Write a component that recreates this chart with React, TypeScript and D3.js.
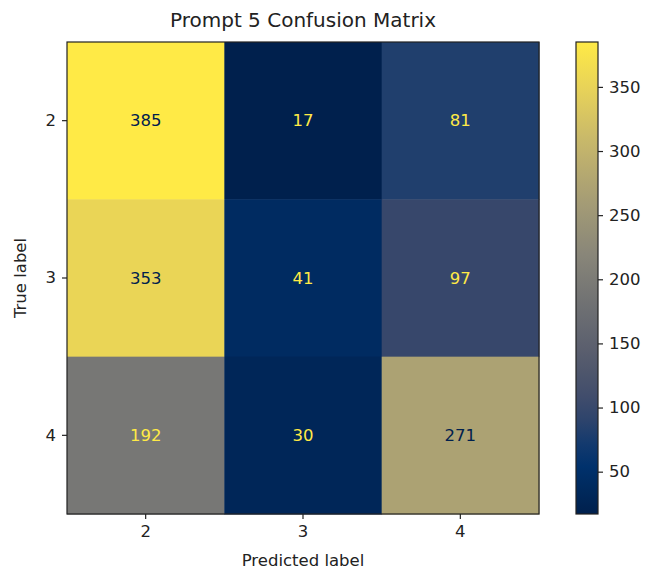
import * as d3 from "d3";
import React, { useEffect, useRef } from "react";

const labels = ["2", "3", "4"];
const matrix = [
  [385, 17, 81],
  [353, 41, 97],
  [192, 30, 271],
];
const colorbarTicks = [50, 100, 150, 200, 250, 300, 350];

// matplotlib's cividis, sampled at 10 even steps
const cividisStops = [
  "#00204D",
  "#00336F",
  "#39486B",
  "#575C6D",
  "#707173",
  "#8A8779",
  "#A69D75",
  "#C4B56C",
  "#E4CF5B",
  "#FFEA46",
];
const cividis = d3.piecewise(d3.interpolateRgb, cividisStops);

const App: React.FC = () => {
  const ref = useRef<SVGSVGElement | null>(null);

  useEffect(() => {
    const width = 646;
    const height = 570;
    const svg = d3.select(ref.current);
    svg.selectAll("*").remove();
    svg.attr("width", width).attr("height", height);

    const font = "DejaVu Sans, sans-serif";
    const fs = "16.5px";
    const left = 67,
      top = 42,
      size = 472;

    const flat = matrix.flat();
    const vmin = d3.min(flat) as number;
    const vmax = d3.max(flat) as number;
    const color = d3.scaleSequential(cividis).domain([vmin, vmax]);

    const x = d3.scaleBand<string>().domain(labels).range([left, left + size]);
    const y = d3.scaleBand<string>().domain(labels).range([top, top + size]);

    svg
      .append("rect")
      .attr("width", width)
      .attr("height", height)
      .attr("fill", "white");

    const cells = matrix.flatMap((row, i) =>
      row.map((v, j) => ({ r: labels[i], c: labels[j], v })),
    );

    svg
      .append("g")
      .selectAll("rect")
      .data(cells)
      .enter()
      .append("rect")
      .attr("x", (d) => x(d.c)!)
      .attr("y", (d) => y(d.r)!)
      .attr("width", x.bandwidth() + 0.5)
      .attr("height", y.bandwidth() + 0.5)
      .attr("fill", (d) => color(d.v));

    const thresh = (vmin + vmax) / 2;
    svg
      .append("g")
      .selectAll("text")
      .data(cells)
      .enter()
      .append("text")
      .attr("x", (d) => x(d.c)! + x.bandwidth() / 2)
      .attr("y", (d) => y(d.r)! + y.bandwidth() / 2)
      .attr("text-anchor", "middle")
      .attr("dominant-baseline", "central")
      .attr("font-family", font)
      .attr("font-size", fs)
      .attr("fill", (d) => (d.v < thresh ? cividis(1) : cividis(0)))
      .text((d) => d.v);

    svg
      .append("rect")
      .attr("x", left)
      .attr("y", top)
      .attr("width", size)
      .attr("height", size)
      .attr("fill", "none")
      .attr("stroke", "#222")
      .attr("stroke-width", 1.2);

    const styleAxis = (g: d3.Selection<SVGGElement, unknown, null, undefined>) => {
      g.select(".domain").remove();
      g.selectAll("text")
        .attr("font-family", font)
        .attr("font-size", fs)
        .attr("fill", "#222");
      g.selectAll("line").attr("stroke", "#222").attr("stroke-width", 1.2);
    };

    svg
      .append("g")
      .attr("transform", `translate(0,${top + size})`)
      .call(d3.axisBottom(x).tickSize(5).tickPadding(6))
      .call(styleAxis);

    svg
      .append("g")
      .attr("transform", `translate(${left},0)`)
      .call(d3.axisLeft(y).tickSize(5).tickPadding(6))
      .call(styleAxis);

    svg
      .append("text")
      .attr("x", left + size / 2)
      .attr("y", 566)
      .attr("text-anchor", "middle")
      .attr("font-family", font)
      .attr("font-size", fs)
      .attr("fill", "#222")
      .text("Predicted label");

    svg
      .append("text")
      .attr("transform", `translate(26,${top + size / 2}) rotate(-90)`)
      .attr("text-anchor", "middle")
      .attr("font-family", font)
      .attr("font-size", fs)
      .attr("fill", "#222")
      .text("True label");

    svg
      .append("text")
      .attr("x", left + size / 2)
      .attr("y", 27)
      .attr("text-anchor", "middle")
      .attr("font-family", font)
      .attr("font-size", "20px")
      .attr("fill", "#222")
      .text("Prompt 5 Confusion Matrix");

    // colorbar
    const cbX = 576,
      cbW = 22;
    const cbScale = d3
      .scaleLinear()
      .domain([vmin, vmax])
      .range([top + size, top]);
    const defs = svg.append("defs");
    const grad = defs
      .append("linearGradient")
      .attr("id", "cbgrad")
      .attr("x1", 0)
      .attr("y1", 1)
      .attr("x2", 0)
      .attr("y2", 0);
    d3.range(0, 1.0001, 0.05).forEach((t) => {
      grad
        .append("stop")
        .attr("offset", t)
        .attr("stop-color", cividis(t));
    });
    svg
      .append("rect")
      .attr("x", cbX)
      .attr("y", top)
      .attr("width", cbW)
      .attr("height", size)
      .attr("fill", "url(#cbgrad)")
      .attr("stroke", "#222")
      .attr("stroke-width", 1.2);

    svg
      .append("g")
      .attr("transform", `translate(${cbX + cbW},0)`)
      .call(
        d3
          .axisRight(cbScale)
          .tickValues(colorbarTicks)
          .tickSize(5)
          .tickPadding(6),
      )
      .call(styleAxis);
  }, []);

  return <svg ref={ref} style={{ position: "absolute", left: 0, top: 0 }} />;
};

export default App;
